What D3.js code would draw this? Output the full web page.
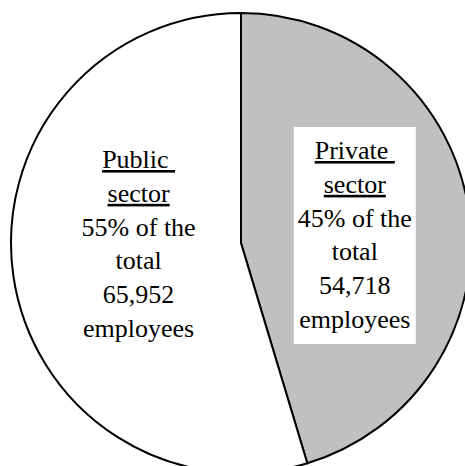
<!DOCTYPE html>
<html>
<head>
<meta charset="utf-8">
<script src="https://cdn.jsdelivr.net/npm/d3@7"></script>
<style>
  body { margin: 0; background: #fff; }
</style>
</head>
<body>
<div id="main"></div>
<script>
const width = 465;
const height = 466;

// data
const sectors = ['Private', 'Public'];
const employees = [54718, 65952];
const shares = ['45%', '55%'];
const colors = ['#c0c0c0', '#ffffff'];

const cx = 241, cy = 243, radius = 230;
const fontSize = 26;
const lineH = 33.8;

const svg = d3.select('#main')
    .append('svg')
    .attr('width', width)
    .attr('height', height);

const g = svg.append('g')
    .attr('transform', `translate(${cx},${cy})`);

const rows = sectors.map((s, i) => ({sector: s, value: employees[i], share: shares[i], color: colors[i]}));

const pie = d3.pie()
    .sort(null)
    .value(d => d.value);

const arc = d3.arc().innerRadius(0).outerRadius(radius);

const arcs = pie(rows);

g.selectAll('path')
    .data(arcs)
    .enter()
    .append('path')
    .attr('d', arc)
    .attr('fill', d => d.data.color)
    .attr('stroke', '#000')
    .attr('stroke-width', 2)
    .attr('stroke-linejoin', 'miter');

// label placement along the mid angle of each slice
const labelK = [0.5, 0.45];
const firstLine = [-84, -75];  // baseline of first line relative to centre

arcs.forEach((a, i) => {
    const mid = (a.startAngle + a.endAngle) / 2;
    const lx = Math.sin(mid) * radius * labelK[i];
    const y0 = firstLine[i];
    const lines = [
        {t: a.data.sector + '\u00a0', u: true},
        {t: 'sector', u: true},
        {t: a.data.share + ' of the', u: false},
        {t: 'total', u: false},
        {t: d3.format(',')(a.data.value), u: false},
        {t: 'employees', u: false}
    ];

    const lg = g.append('g');

    if (a.data.sector === 'Private') {
        lg.append('rect')
            .attr('x', lx - 61)
            .attr('y', y0 - 32)
            .attr('width', 122)
            .attr('height', (lines.length - 1) * lineH + 48)
            .attr('fill', '#fff');
    }

    lg.selectAll('text')
        .data(lines)
        .enter()
        .append('text')
        .attr('x', lx)
        .attr('y', (d, j) => y0 + j * lineH)
        .attr('text-anchor', 'middle')
        .attr('font-family', 'Liberation Serif')
        .attr('font-size', fontSize)
        .style('text-decoration', d => d.u ? 'underline' : 'none')
        .attr('fill', '#000')
        .text(d => d.t);
});
</script>
</body>
</html>
